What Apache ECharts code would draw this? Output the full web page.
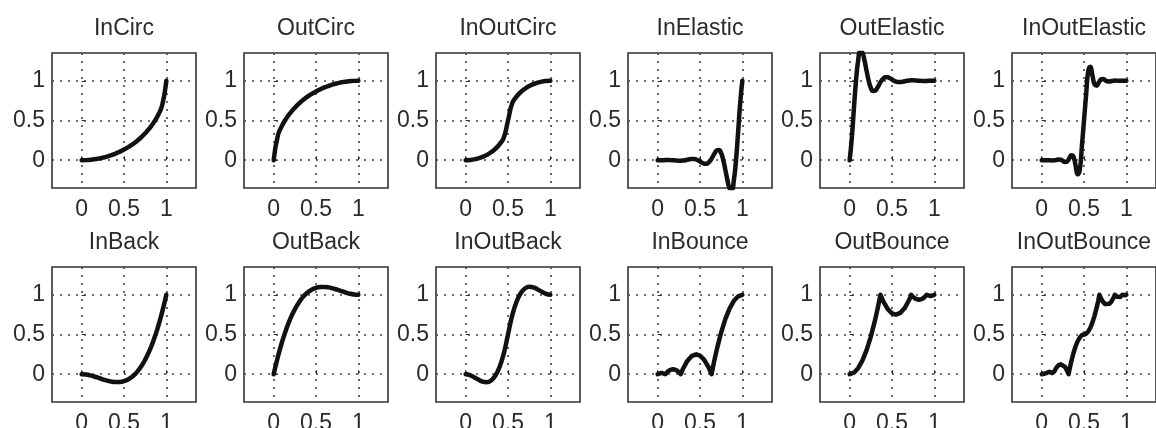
<!DOCTYPE html>
<html>
<head>
<meta charset="utf-8">
<title>Easing functions</title>
<script src="https://cdn.jsdelivr.net/npm/echarts@6/dist/echarts.min.js"></script>
<style>
  html, body { margin: 0; padding: 0; background: #fff; }
  #chart { width: 1156px; height: 428px; }
</style>
</head>
<body>
<div id="chart"></div>
<script>
// sample positions (x) shared by the smooth curves
var xs = [0, 0.05, 0.1, 0.15, 0.2, 0.25, 0.3, 0.35, 0.4, 0.45, 0.5, 0.55, 0.6, 0.65, 0.7, 0.75, 0.8, 0.85, 0.9, 0.95, 1];
var xsFine = [0, 0.025, 0.05, 0.075, 0.1, 0.125, 0.15, 0.175, 0.2, 0.225, 0.25, 0.275, 0.3, 0.325, 0.35, 0.375, 0.4, 0.425, 0.45, 0.475, 0.5,
  0.525, 0.55, 0.575, 0.6, 0.625, 0.65, 0.675, 0.7, 0.725, 0.75, 0.775, 0.8, 0.825, 0.85, 0.875, 0.9, 0.925, 0.95, 0.975, 1];

// Circ
var inCirc = [0, 0.001, 0.005, 0.011, 0.02, 0.032, 0.046, 0.063, 0.083, 0.107, 0.134, 0.165, 0.2, 0.24, 0.286, 0.339, 0.4, 0.473, 0.564, 0.688, 1];
var outCirc = [0, 0.312, 0.436, 0.527, 0.6, 0.661, 0.714, 0.76, 0.8, 0.835, 0.866, 0.893, 0.917, 0.937, 0.954, 0.968, 0.98, 0.989, 0.995, 0.999, 1];
var inOutCirc = [0, 0.003, 0.01, 0.023, 0.042, 0.067, 0.1, 0.143, 0.2, 0.282, 0.5, 0.718, 0.8, 0.857, 0.9, 0.933, 0.958, 0.977, 0.99, 0.997, 1];

// Elastic (on xsFine)
var inElastic = [0, 0, 0.001, 0.001, 0.002, 0.002, 0.001, 0, -0.002, -0.004, -0.006, -0.006, -0.004, 0, 0.006, 0.011, 0.016, 0.016, 0.011, 0,
  -0.016, -0.032, -0.044, -0.046, -0.031, 0, 0.044, 0.091, 0.125, 0.129, 0.088, 0, -0.125, -0.257, -0.354, -0.364, -0.25, 0, 0.354, 0.728, 1];
var outElastic = [0, 0.272, 0.646, 1, 1.25, 1.364, 1.354, 1.257, 1.125, 1, 0.912, 0.871, 0.875, 0.909, 0.956, 1, 1.031, 1.046, 1.044, 1.032,
  1.016, 1, 0.989, 0.984, 0.984, 0.989, 0.994, 1, 1.004, 1.006, 1.006, 1.004, 1.002, 1, 0.999, 0.998, 0.998, 0.999, 0.999, 1, 1];
var inOutElastic = [0, 0, 0.001, 0, -0.001, -0.003, -0.002, 0.003, 0.008, 0.006, -0.008, -0.022, -0.016, 0.022, 0.063, 0.044, -0.063, -0.177, -0.125, 0.177,
  0.5, 0.823, 1.125, 1.177, 1.063, 0.956, 0.938, 0.978, 1.016, 1.022, 1.008, 0.994, 0.992, 0.997, 1.002, 1.003, 1.001, 1, 0.999, 1, 1];

// Back
var inBack = [0, -0.004, -0.014, -0.029, -0.046, -0.064, -0.08, -0.093, -0.099, -0.098, -0.088, -0.065, -0.029, 0.023, 0.093, 0.183, 0.294, 0.43, 0.591, 0.781, 1];
var outBack = [0, 0.219, 0.409, 0.57, 0.706, 0.817, 0.907, 0.977, 1.029, 1.065, 1.088, 1.098, 1.099, 1.093, 1.08, 1.064, 1.047, 1.029, 1.014, 1.004, 1];
var inOutBack = [0, -0.011, -0.038, -0.068, -0.093, -0.1, -0.079, -0.019, 0.09, 0.259, 0.5, 0.741, 0.91, 1.019, 1.079, 1.1, 1.093, 1.068, 1.038, 1.011, 1];

// Bounce (own x positions, so the bounce corners are hit)
var inBounceX = [0, 0.023, 0.045, 0.068, 0.091, 0.12, 0.15, 0.182, 0.22, 0.25, 0.273, 0.3, 0.35, 0.4, 0.455, 0.5, 0.55, 0.6, 0.636, 0.667, 0.7, 0.75, 0.8, 0.85, 0.9, 0.95, 1];
var inBounceY = [0, 0.012, 0.016, 0.012, 0, 0.034, 0.055, 0.062, 0.051, 0.027, 0, 0.069, 0.167, 0.227, 0.25, 0.234, 0.181, 0.09, 0, 0.161, 0.319, 0.527, 0.697, 0.83, 0.924, 0.981, 1];
var outBounceX = [0, 0.05, 0.1, 0.15, 0.2, 0.25, 0.3, 0.333, 0.364, 0.4, 0.45, 0.5, 0.545, 0.6, 0.65, 0.7, 0.727, 0.75, 0.78, 0.818, 0.85, 0.88, 0.909, 0.932, 0.955, 0.977, 1];
var outBounceY = [0, 0.019, 0.076, 0.17, 0.303, 0.473, 0.681, 0.839, 1, 0.91, 0.819, 0.766, 0.75, 0.773, 0.833, 0.931, 1, 0.973, 0.949, 0.938, 0.945, 0.966, 1, 0.988, 0.984, 0.988, 1];
var inOutBounceX = [0, 0.011, 0.023, 0.034, 0.045, 0.06, 0.075, 0.091, 0.11, 0.125, 0.136, 0.15, 0.175, 0.2, 0.227, 0.25, 0.275, 0.3, 0.318, 0.333, 0.35, 0.375, 0.4, 0.425, 0.45, 0.475, 0.5,
  0.525, 0.55, 0.575, 0.6, 0.625, 0.65, 0.667, 0.682, 0.7, 0.725, 0.75, 0.773, 0.8, 0.825, 0.85, 0.864, 0.875, 0.89, 0.909, 0.925, 0.94, 0.955, 0.966, 0.977, 0.989, 1];
var inOutBounceY = [0, 0.006, 0.008, 0.006, 0, 0.017, 0.028, 0.031, 0.026, 0.014, 0, 0.035, 0.084, 0.114, 0.125, 0.117, 0.091, 0.045, 0, 0.081, 0.16, 0.264, 0.349, 0.415, 0.462, 0.491, 0.5,
  0.509, 0.538, 0.585, 0.652, 0.737, 0.841, 0.92, 1, 0.955, 0.91, 0.883, 0.875, 0.887, 0.917, 0.966, 1, 0.987, 0.975, 0.969, 0.973, 0.983, 1, 0.994, 0.992, 0.994, 1];

var titles = ["InCirc", "OutCirc", "InOutCirc", "InElastic", "OutElastic", "InOutElastic",
  "InBack", "OutBack", "InOutBack", "InBounce", "OutBounce", "InOutBounce"];
var tickValues = [0, 0.5, 1];

var curves = [
  [xs, inCirc], [xs, outCirc], [xs, inOutCirc],
  [xsFine, inElastic], [xsFine, outElastic], [xsFine, inOutElastic],
  [xs, inBack], [xs, outBack], [xs, inOutBack],
  [inBounceX, inBounceY], [outBounceX, outBounceY], [inOutBounceX, inOutBounceY]
];

var font = "Liberation Sans, Arial, Helvetica, sans-serif";
var textColor = "#2b2b2b";

var chart = echarts.init(document.getElementById("chart"));

var grids = [], xAxes = [], yAxes = [], series = [], titleList = [];
curves.forEach(function (c, i) {
  var col = i % 6, row = Math.floor(i / 6);
  var left = 52 + col * 192, top = 53 + row * 214;
  grids.push({
    left: left, top: top, width: 144, height: 135,
    show: true, borderColor: "#333", borderWidth: 1.6, backgroundColor: "#fff",
    outerBoundsMode: "none"
  });
  titleList.push({
    text: titles[i],
    left: left + 72, top: top - 36,
    textAlign: "center", padding: 0,
    textStyle: { fontSize: 23, fontWeight: "normal", color: textColor, fontFamily: font }
  });
  var axisCommon = {
    gridIndex: i, type: "value", min: -0.35, max: 1.35,
    axisLine: { show: false },
    axisTick: { show: true, inside: true, length: 4, customValues: tickValues, lineStyle: { color: "#333", width: 1 } },
    splitLine: { show: true, lineStyle: { type: [2, 6], color: "#444", width: 1.6 } }
  };
  xAxes.push(Object.assign({}, axisCommon, {
    axisLabel: { customValues: tickValues, color: textColor, fontSize: 23, fontFamily: font, margin: 10 }
  }));
  yAxes.push(Object.assign({}, axisCommon, {
    axisLabel: { customValues: tickValues, color: textColor, fontSize: 23, fontFamily: font, margin: 7 }
  }));
  series.push({
    type: "line",
    xAxisIndex: i, yAxisIndex: i,
    data: c[0].map(function (x, k) { return [x, c[1][k]]; }),
    smooth: i < 9,
    showSymbol: false,
    clip: true,
    silent: true,
    lineStyle: { color: "#111", width: 4.5, cap: "round", join: "round" }
  });
});

chart.setOption({
  animation: false,
  backgroundColor: "#fff",
  title: titleList,
  grid: grids,
  xAxis: xAxes,
  yAxis: yAxes,
  series: series
});
</script>
</body>
</html>
